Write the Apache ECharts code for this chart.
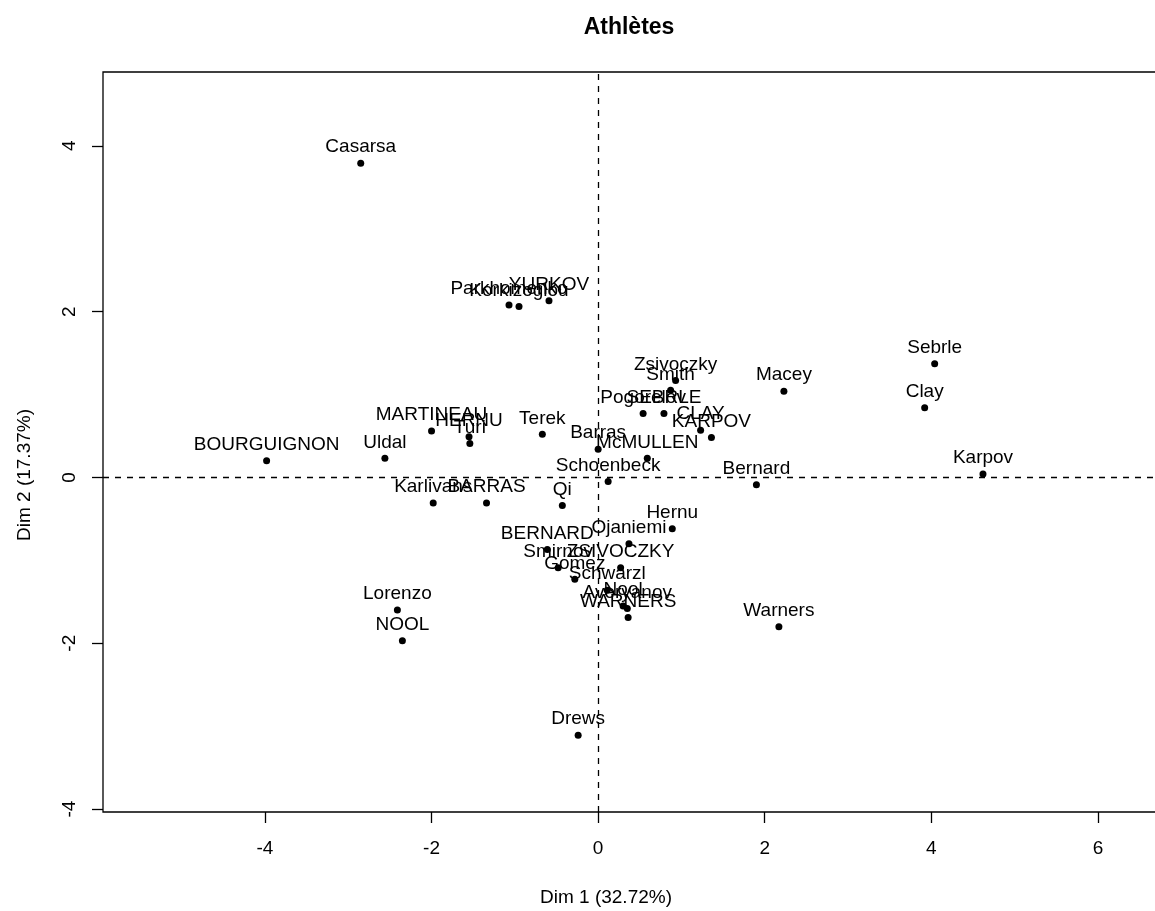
<!DOCTYPE html>
<html>
<head>
<meta charset="utf-8">
<script src="https://cdn.jsdelivr.net/npm/echarts@6/dist/echarts.min.js"></script>
<style>
html,body{margin:0;padding:0;background:#fff;overflow:hidden;}
#chart{width:1175px;height:911px;}
</style>
</head>
<body>
<div id="chart"></div>
<script>
const names = ["SEBRLE","CLAY","KARPOV","BERNARD","YURKOV","WARNERS","ZSIVOCZKY","McMULLEN","MARTINEAU","HERNU","BARRAS","NOOL","BOURGUIGNON","Sebrle","Clay","Karpov","Macey","Warners","Zsivoczky","Hernu","Nool","Bernard","Schwarzl","Pogorelov","Schoenbeck","Barras","Smith","Averyanov","Ojaniemi","Smirnov","Qi","Drews","Parkhomenko","Terek","Gomez","Turi","Lorenzo","Karlivans","Korkizoglou","Uldal","Casarsa"];
const dim1 = [0.79,1.23,1.36,-0.61,-0.59,0.36,0.27,0.59,-2.00,-1.55,-1.34,-2.35,-3.98,4.04,3.92,4.62,2.23,2.17,0.93,0.89,0.30,1.90,0.11,0.54,0.12,0.00,0.87,0.35,0.37,-0.48,-0.43,-0.24,-1.07,-0.67,-0.28,-1.54,-2.41,-1.98,-0.95,-2.56,-2.85];
const dim2 = [0.77,0.57,0.48,-0.87,2.13,-1.69,-1.09,0.23,0.56,0.49,-0.31,-1.97,0.20,1.37,0.84,0.04,1.04,-1.80,1.17,-0.62,-1.55,-0.09,-1.36,0.77,-0.05,0.34,1.05,-1.58,-0.80,-1.09,-0.34,-3.11,2.08,0.52,-1.23,0.41,-1.60,-0.31,2.06,0.23,3.79];
const xTicks = [-4,-2,0,2,4,6];
const yTicks = [-4,-2,0,2,4];

const FONT = '"Liberation Sans", Arial, Helvetica, sans-serif';
const data = names.map((n,i)=>({name:n, value:[dim1[i], dim2[i]]}));

const chart = echarts.init(document.getElementById('chart'));
chart.setOption({
  animation:false,
  backgroundColor:'#fff',
  grid:{left:103, right:15, top:72, bottom:99, show:true, borderColor:'#000', borderWidth:1.3, backgroundColor:'transparent'},
  xAxis:{
    type:'value', min:-5.944, max:6.745,
    splitLine:{show:false},
    axisLine:{show:false, onZero:false},
    axisTick:{show:true, inside:false, length:11, lineStyle:{color:'#000', width:1.3}, customValues:xTicks},
    axisLabel:{color:'#000', fontFamily:FONT, fontSize:19, margin:27, customValues:xTicks, showMinLabel:true, showMaxLabel:true}
  },
  yAxis:{
    type:'value', min:-4.036, max:4.89,
    splitLine:{show:false},
    axisLine:{show:false, onZero:false},
    axisTick:{show:true, inside:false, length:11, lineStyle:{color:'#000', width:1.3}, customValues:yTicks},
    axisLabel:{color:'#000', fontFamily:FONT, fontSize:19, margin:24, rotate:90, customValues:yTicks, showMinLabel:true, showMaxLabel:true}
  },
  graphic:[
    {type:'text', x:629, y:28, style:{text:'Athlètes', fill:'#000', font:'bold 23px '+FONT, textAlign:'center', textVerticalAlign:'middle'}},
    {type:'text', x:606, y:898, style:{text:'Dim 1 (32.72%)', fill:'#000', font:'19px '+FONT, textAlign:'center', textVerticalAlign:'middle'}},
    {type:'text', x:25, y:475, rotation:Math.PI/2, style:{text:'Dim 2 (17.37%)', fill:'#000', font:'19px '+FONT, textAlign:'center', textVerticalAlign:'middle'}}
  ],
  series:[{
    type:'scatter',
    data:data,
    symbol:'circle',
    symbolSize:7,
    itemStyle:{color:'#000', opacity:1},
    label:{show:true, position:'top', distance:3, formatter:p=>p.name, color:'#000', opacity:1, fontFamily:FONT, fontSize:19},
    emphasis:{disabled:true},
    markLine:{
      silent:true, symbol:'none', animation:false,
      label:{show:false},
      lineStyle:{color:'#000', type:[6,6], width:1.3, opacity:1},
      data:[{xAxis:0},{yAxis:0}]
    }
  }]
});
</script>
</body>
</html>
